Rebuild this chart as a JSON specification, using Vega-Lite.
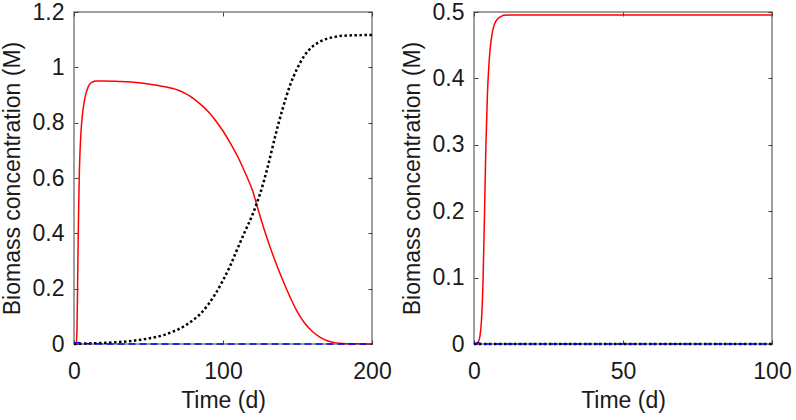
{
  "$schema": "https://vega.github.io/schema/vega-lite/v6.json",
  "background": "white",
  "padding": {"left": 0, "top": 0, "right": 0, "bottom": 0},
  "spacing": 102,
  "bounds": "flush",
  "config": {
    "font": "Liberation Sans",
    "view": {"stroke": "#808080", "strokeWidth": 1.5},
    "axis": {
      "grid": false,
      "domain": false,
      "labelFlush": false,
      "labelFont": "Liberation Sans",
      "titleFont": "Liberation Sans",
      "labelFontSize": 23,
      "titleFontSize": 23,
      "titleFontWeight": "normal",
      "labelColor": "#1a1a1a",
      "titleColor": "#1a1a1a",
      "tickColor": "#404040",
      "tickSize": -4,
      "tickWidth": 1
    }
  },
  "datasets": {
    "left": [
      {"t": 0, "v": 0, "s": "red"}, {"t": 1.5, "v": 0, "s": "red"}, {"t": 2, "v": 0.05, "s": "red"}, {"t": 2.5, "v": 0.25, "s": "red"}, {"t": 3, "v": 0.45, "s": "red"}, {"t": 3.5, "v": 0.6, "s": "red"}, {"t": 4, "v": 0.69, "s": "red"}, {"t": 5, "v": 0.79, "s": "red"}, {"t": 6, "v": 0.845, "s": "red"}, {"t": 7, "v": 0.88, "s": "red"}, {"t": 8, "v": 0.905, "s": "red"}, {"t": 9, "v": 0.922, "s": "red"}, {"t": 10, "v": 0.935, "s": "red"}, {"t": 12, "v": 0.946, "s": "red"}, {"t": 15, "v": 0.951, "s": "red"}, {"t": 20, "v": 0.951, "s": "red"}, {"t": 30, "v": 0.949, "s": "red"}, {"t": 40, "v": 0.946, "s": "red"}, {"t": 50, "v": 0.94, "s": "red"}, {"t": 60, "v": 0.931, "s": "red"}, {"t": 70, "v": 0.917, "s": "red"}, {"t": 75, "v": 0.905, "s": "red"}, {"t": 80, "v": 0.888, "s": "red"}, {"t": 85, "v": 0.866, "s": "red"}, {"t": 90, "v": 0.84, "s": "red"}, {"t": 95, "v": 0.808, "s": "red"}, {"t": 100, "v": 0.77, "s": "red"}, {"t": 105, "v": 0.725, "s": "red"}, {"t": 110, "v": 0.676, "s": "red"}, {"t": 115, "v": 0.617, "s": "red"}, {"t": 120, "v": 0.552, "s": "red"}, {"t": 122.5, "v": 0.506, "s": "red"}, {"t": 125, "v": 0.46, "s": "red"}, {"t": 130, "v": 0.375, "s": "red"}, {"t": 135, "v": 0.3, "s": "red"}, {"t": 140, "v": 0.232, "s": "red"}, {"t": 145, "v": 0.17, "s": "red"}, {"t": 150, "v": 0.115, "s": "red"}, {"t": 155, "v": 0.074, "s": "red"}, {"t": 160, "v": 0.045, "s": "red"}, {"t": 165, "v": 0.025, "s": "red"}, {"t": 170, "v": 0.012, "s": "red"}, {"t": 175, "v": 0.005, "s": "red"}, {"t": 180, "v": 0.002, "s": "red"}, {"t": 190, "v": 0.0005, "s": "red"}, {"t": 200, "v": 0, "s": "red"},
      {"t": 0, "v": 0, "s": "black"}, {"t": 5, "v": 0.001, "s": "black"}, {"t": 10, "v": 0.002, "s": "black"}, {"t": 20, "v": 0.004, "s": "black"}, {"t": 30, "v": 0.007, "s": "black"}, {"t": 40, "v": 0.012, "s": "black"}, {"t": 50, "v": 0.02, "s": "black"}, {"t": 60, "v": 0.032, "s": "black"}, {"t": 65, "v": 0.042, "s": "black"}, {"t": 70, "v": 0.053, "s": "black"}, {"t": 75, "v": 0.068, "s": "black"}, {"t": 80, "v": 0.087, "s": "black"}, {"t": 85, "v": 0.11, "s": "black"}, {"t": 90, "v": 0.142, "s": "black"}, {"t": 95, "v": 0.182, "s": "black"}, {"t": 100, "v": 0.23, "s": "black"}, {"t": 105, "v": 0.285, "s": "black"}, {"t": 110, "v": 0.348, "s": "black"}, {"t": 115, "v": 0.41, "s": "black"}, {"t": 120, "v": 0.47, "s": "black"}, {"t": 122.5, "v": 0.506, "s": "black"}, {"t": 125, "v": 0.545, "s": "black"}, {"t": 130, "v": 0.64, "s": "black"}, {"t": 135, "v": 0.75, "s": "black"}, {"t": 140, "v": 0.85, "s": "black"}, {"t": 145, "v": 0.935, "s": "black"}, {"t": 150, "v": 0.998, "s": "black"}, {"t": 155, "v": 1.045, "s": "black"}, {"t": 160, "v": 1.075, "s": "black"}, {"t": 165, "v": 1.093, "s": "black"}, {"t": 170, "v": 1.104, "s": "black"}, {"t": 175, "v": 1.11, "s": "black"}, {"t": 180, "v": 1.114, "s": "black"}, {"t": 190, "v": 1.116, "s": "black"}, {"t": 200, "v": 1.117, "s": "black"},
      {"t": 0, "v": 0, "s": "blue"}, {"t": 1, "v": 0.004, "s": "blue"}, {"t": 3, "v": 0.005, "s": "blue"}, {"t": 5, "v": 0.003, "s": "blue"}, {"t": 10, "v": 0.001, "s": "blue"}, {"t": 20, "v": 0, "s": "blue"}, {"t": 200, "v": 0, "s": "blue"}
    ],
    "right": [
      {"t": 0, "v": 0, "s": "red"}, {"t": 1, "v": 0.001, "s": "red"}, {"t": 1.5, "v": 0.004, "s": "red"}, {"t": 2, "v": 0.012, "s": "red"}, {"t": 2.5, "v": 0.035, "s": "red"}, {"t": 3, "v": 0.09, "s": "red"}, {"t": 3.5, "v": 0.19, "s": "red"}, {"t": 4, "v": 0.3, "s": "red"}, {"t": 4.5, "v": 0.375, "s": "red"}, {"t": 5, "v": 0.42, "s": "red"}, {"t": 5.5, "v": 0.448, "s": "red"}, {"t": 6, "v": 0.465, "s": "red"}, {"t": 6.5, "v": 0.476, "s": "red"}, {"t": 7, "v": 0.483, "s": "red"}, {"t": 8, "v": 0.49, "s": "red"}, {"t": 9, "v": 0.493, "s": "red"}, {"t": 10, "v": 0.495, "s": "red"}, {"t": 12, "v": 0.4955, "s": "red"}, {"t": 100, "v": 0.4955, "s": "red"},
      {"t": 0, "v": 0, "s": "black"}, {"t": 100, "v": 0, "s": "black"},
      {"t": 0, "v": 0, "s": "blue"}, {"t": 0.5, "v": 0.001, "s": "blue"}, {"t": 1, "v": 0.002, "s": "blue"}, {"t": 2, "v": 0.001, "s": "blue"}, {"t": 3, "v": 0, "s": "blue"}, {"t": 100, "v": 0, "s": "blue"}
    ]
  },
  "hconcat": [
    {
      "width": 298,
      "height": 332,
      "data": {"name": "left"},
      "resolve": {"axis": {"x": "independent", "y": "independent"}},
      "layer": [
        {
          "transform": [{"filter": "datum.s === 'red'"}],
          "mark": {"type": "line", "color": "#ff0000", "strokeWidth": 1.5, "interpolate": "monotone"},
          "encoding": {
            "x": {"field": "t", "type": "quantitative", "scale": {"domain": [0, 200], "nice": false, "zero": false},
                  "axis": {"orient": "bottom", "values": [0, 100, 200], "format": "d", "title": "Time (d)", "labelPadding": 20, "titlePadding": 6}},
            "y": {"field": "v", "type": "quantitative", "scale": {"domain": [0, 1.2], "nice": false},
                  "axis": {"orient": "left", "values": [0, 0.2, 0.4, 0.6, 0.8, 1, 1.2], "format": "~g", "title": "Biomass concentration (M)", "labelPadding": 14, "titlePadding": 8}}
          }
        },
        {
          "transform": [{"filter": "datum.s === 'black'"}],
          "mark": {"type": "line", "color": "#000000", "strokeWidth": 2.5, "strokeDash": [2.5, 2.5], "interpolate": "monotone"},
          "encoding": {
            "x": {"field": "t", "type": "quantitative", "axis": {"orient": "top", "values": [0, 100, 200], "labels": false, "title": null}},
            "y": {"field": "v", "type": "quantitative", "axis": {"orient": "right", "values": [0, 0.2, 0.4, 0.6, 0.8, 1, 1.2], "labels": false, "title": null}}
          }
        },
        {
          "transform": [{"filter": "datum.s === 'blue'"}],
          "mark": {"type": "line", "color": "#0000ff", "strokeWidth": 1.5, "strokeDash": [7, 4]},
          "encoding": {
            "x": {"field": "t", "type": "quantitative", "axis": null},
            "y": {"field": "v", "type": "quantitative", "axis": null}
          }
        }
      ]
    },
    {
      "width": 298,
      "height": 332,
      "data": {"name": "right"},
      "resolve": {"axis": {"x": "independent", "y": "independent"}},
      "layer": [
        {
          "transform": [{"filter": "datum.s === 'red'"}],
          "mark": {"type": "line", "color": "#ff0000", "strokeWidth": 1.5, "interpolate": "monotone"},
          "encoding": {
            "x": {"field": "t", "type": "quantitative", "scale": {"domain": [0, 100], "nice": false, "zero": false},
                  "axis": {"orient": "bottom", "values": [0, 50, 100], "format": "d", "title": "Time (d)", "labelPadding": 20, "titlePadding": 6}},
            "y": {"field": "v", "type": "quantitative", "scale": {"domain": [0, 0.5], "nice": false},
                  "axis": {"orient": "left", "values": [0, 0.1, 0.2, 0.3, 0.4, 0.5], "format": "~g", "title": "Biomass concentration (M)", "labelPadding": 14, "titlePadding": 8}}
          }
        },
        {
          "transform": [{"filter": "datum.s === 'black'"}],
          "mark": {"type": "line", "color": "#000000", "strokeWidth": 2.5, "strokeDash": [2.5, 2.5]},
          "encoding": {
            "x": {"field": "t", "type": "quantitative", "axis": {"orient": "top", "values": [0, 50, 100], "labels": false, "title": null}},
            "y": {"field": "v", "type": "quantitative", "axis": {"orient": "right", "values": [0, 0.1, 0.2, 0.3, 0.4, 0.5], "labels": false, "title": null}}
          }
        },
        {
          "transform": [{"filter": "datum.s === 'blue'"}],
          "mark": {"type": "line", "color": "#0000ff", "strokeWidth": 1.5, "strokeDash": [7, 4]},
          "encoding": {
            "x": {"field": "t", "type": "quantitative", "axis": null},
            "y": {"field": "v", "type": "quantitative", "axis": null}
          }
        }
      ]
    }
  ]
}
